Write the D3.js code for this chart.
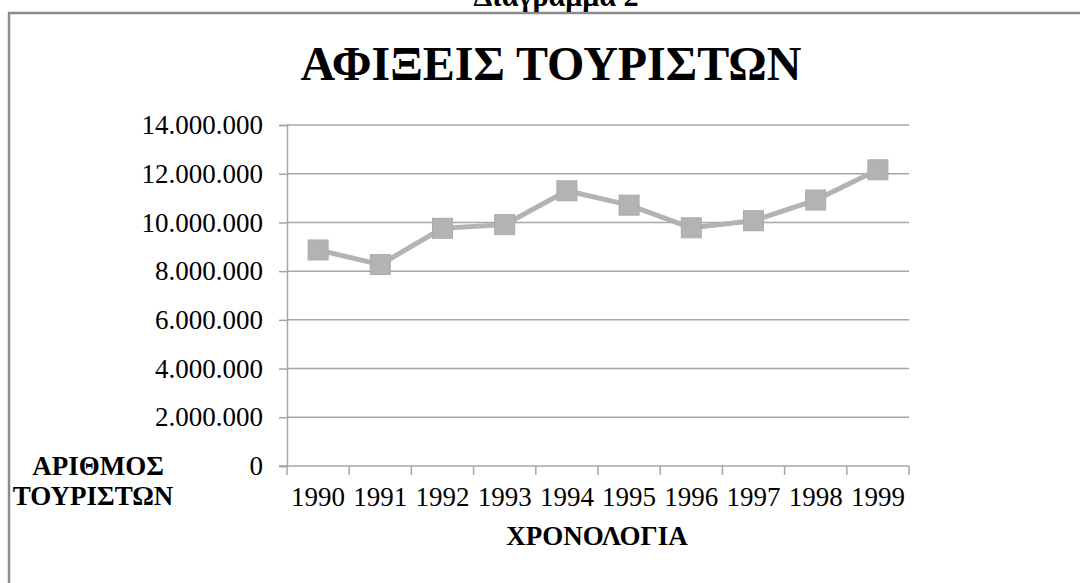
<!DOCTYPE html>
<html>
<head>
<meta charset="utf-8">
<script src="https://cdn.jsdelivr.net/npm/d3@7"></script>
<style>
  body { margin: 0; background: #fff; }
  svg { display: block; font-family: "Liberation Serif", "DejaVu Serif", serif; }
</style>
</head>
<body>
<svg id="chart"></svg>
<script>
// data
const years = ["1990", "1991", "1992", "1993", "1994", "1995", "1996", "1997", "1998", "1999"];
const arrivals = [8870000, 8270000, 9760000, 9910000, 11300000, 10710000, 9780000, 10070000, 10920000, 12160000];
const yTicks = [0, 2000000, 4000000, 6000000, 8000000, 10000000, 12000000, 14000000];

const width = 1080, height = 583;
const margin = { top: 125, right: 171, bottom: 117, left: 287 };

const svg = d3.select("#chart")
    .attr("width", width)
    .attr("height", height);

// outer frame (only top and left edges are in view)
svg.append("line").attr("x1", 8).attr("x2", width).attr("y1", 13).attr("y2", 13)
    .attr("stroke", "#8c8c8c").attr("stroke-width", 2.5);
svg.append("line").attr("x1", 9).attr("x2", 9).attr("y1", 13).attr("y2", height)
    .attr("stroke", "#8c8c8c").attr("stroke-width", 2.5);

// caption, partly above the top of the page as in the source
svg.append("text")
    .attr("x", 556).attr("y", 6)
    .attr("text-anchor", "middle")
    .style("font-size", "30px").style("font-weight", "bold")
    .text("Διάγραμμα 2");

const x = d3.scaleBand()
    .domain(years)
    .range([margin.left, width - margin.right]);

const y = d3.scaleLinear()
    .domain([0, 14000000])
    .range([height - margin.bottom, margin.top]);

const grFormat = d3.formatLocale({ decimal: ",", thousands: ".", grouping: [3], currency: ["", "€"] }).format(",");

// gridlines
svg.append("g")
    .selectAll("line")
    .data(yTicks.filter(d => d > 0))
    .enter()
    .append("line")
    .attr("x1", margin.left)
    .attr("x2", width - margin.right)
    .attr("y1", d => y(d))
    .attr("y2", d => y(d))
    .attr("stroke", "#a6a6a6")
    .attr("stroke-width", 1.5);

// y axis
const yAxis = svg.append("g")
    .attr("transform", `translate(${margin.left},0)`)
    .call(d3.axisLeft(y).tickValues(yTicks).tickSize(8).tickPadding(16).tickFormat(grFormat));
yAxis.selectAll("line").attr("stroke", "#a6a6a6").attr("stroke-width", 1.5);
yAxis.select(".domain").attr("stroke", "#a6a6a6").attr("stroke-width", 1.5);
yAxis.selectAll("text").style("font-size", "27px").style("font-family", "Liberation Serif").attr("fill", "#000");

// x axis: labels centred in bands, ticks on band edges
const xAxis = svg.append("g")
    .attr("transform", `translate(0,${y(0)})`)
    .call(d3.axisBottom(x).tickSize(0).tickPadding(21));
xAxis.select(".domain").remove();
xAxis.selectAll("text").style("font-size", "27px").style("font-family", "Liberation Serif").attr("fill", "#000");

const edges = years.map(d => x(d)).concat([x.range()[1]]);
svg.append("g")
    .selectAll("line")
    .data(edges)
    .enter()
    .append("line")
    .attr("x1", d => d).attr("x2", d => d)
    .attr("y1", y(0)).attr("y2", y(0) + 9)
    .attr("stroke", "#a6a6a6").attr("stroke-width", 1.5);
svg.append("line")
    .attr("x1", margin.left - 8).attr("x2", x.range()[1])
    .attr("y1", y(0)).attr("y2", y(0))
    .attr("stroke", "#a6a6a6").attr("stroke-width", 1.5);

// series line
const line = d3.line()
    .x((d, i) => x(years[i]) + x.bandwidth() / 2)
    .y(d => y(d));

svg.append("path")
    .datum(arrivals)
    .attr("d", line)
    .attr("fill", "none")
    .attr("stroke", "#b3b3b3")
    .attr("stroke-width", 5)
    .attr("stroke-linejoin", "round");

// square markers
const size = 20;
svg.append("g")
    .selectAll("rect")
    .data(arrivals)
    .enter()
    .append("rect")
    .attr("x", (d, i) => x(years[i]) + x.bandwidth() / 2 - size / 2)
    .attr("y", d => y(d) - size / 2)
    .attr("width", size)
    .attr("height", size)
    .attr("fill", "#b3b3b3")
    .attr("stroke", "#ababab")
    .attr("stroke-width", 1);

// title
svg.append("text")
    .attr("x", 551).attr("y", 80)
    .attr("text-anchor", "middle")
    .style("font-size", "48px").style("font-weight", "bold")
    .text("ΑΦΙΞΕΙΣ ΤΟΥΡΙΣΤΩΝ");

// axis titles
svg.append("text")
    .attr("x", 597).attr("y", 545)
    .attr("text-anchor", "middle")
    .style("font-size", "27px").style("font-weight", "bold")
    .text("ΧΡΟΝΟΛΟΓΙΑ");

const yTitle = svg.append("text")
    .attr("text-anchor", "middle")
    .style("font-size", "27px").style("font-weight", "bold");
yTitle.append("tspan").attr("x", 98).attr("y", 475).text("ΑΡΙΘΜΟΣ");
yTitle.append("tspan").attr("x", 93).attr("y", 505).text("ΤΟΥΡΙΣΤΩΝ");
</script>
</body>
</html>
